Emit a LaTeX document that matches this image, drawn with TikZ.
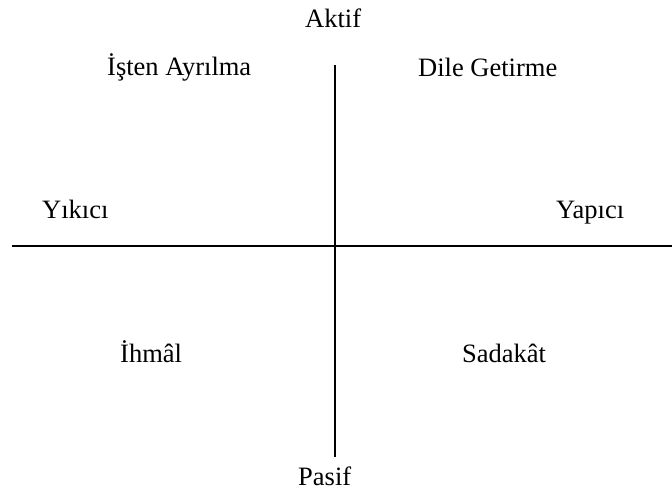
\documentclass[tikz,border=0pt]{standalone}
\usepackage{fontspec}
\setmainfont{Liberation Serif}
\begin{document}
\begin{tikzpicture}[x=1pt,y=-1pt,
  lbl/.style={anchor=base west,inner sep=0pt,font=\fontsize{26.5}{30}\selectfont},
  axis/.style={line width=2pt,black}]
\useasboundingbox (0,0) rectangle (672,493);
\coordinate (vt) at (335,65);
\coordinate (vb) at (335,457);
\coordinate (hl) at (12,246);
\coordinate (hr) at (672,246);
\draw[axis] (vt) -- (vb);
\draw[axis] (hl) -- (hr);
\node[lbl] (aktif) at (305,27) {Aktif};
\node[lbl] (isten) at (107,75) {İşten Ayrılma};
\node[lbl] (dile) at (418,76) {Dile Getirme};
\node[lbl] (yikici) at (42,218) {Yıkıcı};
\node[lbl] (yapici) at (556,218) {Yapıcı};
\node[lbl] (ihmal) at (120,362) {İhmâl};
\node[lbl] (sadakat) at (462,362) {Sadakât};
\node[lbl] (pasif) at (298,485) {Pasif};
\end{tikzpicture}
\end{document}
